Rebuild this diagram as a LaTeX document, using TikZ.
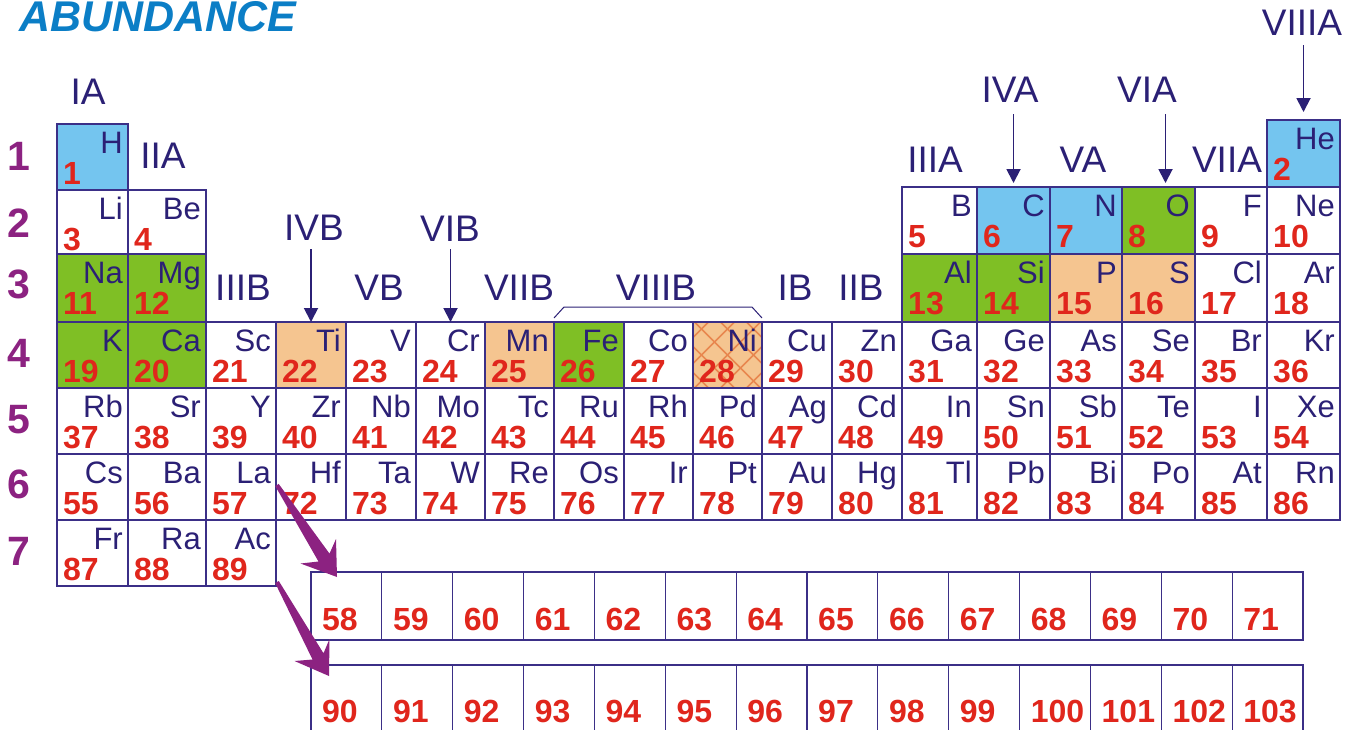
\documentclass[tikz,border=0pt]{standalone}
\usepackage{fontspec}
\setmainfont{Liberation Sans}
\usetikzlibrary{arrows.meta}
\definecolor{navy}{HTML}{2B2075}
\definecolor{boxc}{HTML}{3B2F87}
\definecolor{redc}{HTML}{E0261C}
\definecolor{purp}{HTML}{8C2281}
\definecolor{bluec}{HTML}{74C5EF}
\definecolor{greenc}{HTML}{7FBF25}
\definecolor{peachc}{HTML}{F5C590}
\definecolor{hatchc}{HTML}{E8874F}
\definecolor{titlec}{HTML}{0B7EC6}
\def\colx{{57,128,206,276,346,416,485,554,624,693,762,832,902,977,1050,1122,1195,1267,1340}}
\tikzset{
  cellbox/.style={rectangle, draw=boxc, line width=1.2pt, inner sep=0pt, outer sep=0pt, anchor=north west},
  symt/.style={anchor=base east, text=navy, inner sep=0pt, font=\fontsize{31}{31}\selectfont},
  numt/.style={anchor=base west, text=redc, inner sep=0pt, font=\fontsize{32}{32}\selectfont\bfseries},
  grp/.style={anchor=base, text=navy, inner sep=0pt, font=\fontsize{37}{37}\selectfont},
  per/.style={anchor=base, text=purp, inner sep=0pt, font=\fontsize{41}{41}\selectfont\bfseries},
  garrow/.style={draw=navy, line width=1.9pt, -{Triangle[width=14pt,length=14pt]}},
  bracketline/.style={draw=navy, line width=1pt},
  bigarrow/.style={fill=purp},
  hatchline/.style={draw=hatchc, line width=1.5pt},
  hatch/.style={path picture={
    \foreach \k in {-130,-104,...,130}{
      \draw[hatchline] ([xshift=\k pt]path picture bounding box.center) ++(-60pt,-60pt) -- ++(120pt,120pt);
      \draw[hatchline] ([xshift=\k pt]path picture bounding box.center) ++(-60pt,60pt) -- ++(120pt,-120pt);
    }}},
}
\newcommand\el[7][]{%
  \pgfmathsetmacro\xl{\colx[#2]}%
  \pgfmathsetmacro\xr{\colx[#2+1]}%
  \node[cellbox, fill=#7, minimum width={(\xr-\xl)*1pt}, minimum height={(#4-#3)*1pt}, #1] (e#6) at (\xl,#3) {};
  \node[symt] (e#6s) at ([xshift=-5pt,yshift=-29pt]e#6.north east) {#5};
  \node[numt] (e#6n) at ([xshift=6pt,yshift=-60pt]e#6.north west) {#6};
}
\begin{document}
\begin{tikzpicture}[x=1pt,y=-1pt]
\useasboundingbox (0,0) rectangle (1352,729);
% title
\node[anchor=base west, inner sep=0pt, text=titlec, font=\fontsize{43}{43}\selectfont\bfseries\itshape] (title) at (19,31.5) {ABUNDANCE};
% period numbers
\foreach \p/\y in {1/170,2/237,3/298,4/367,5/433,6/498,7/565}
  \node[per] (p\p) at (19,\y) {\p};
% row 1
\el{0}{124}{190}{H}{1}{bluec}
\el{17}{120}{187}{He}{2}{bluec}
% row 2
\el{0}{190}{254}{Li}{3}{white}
\el{1}{190}{254}{Be}{4}{white}
\foreach \c/\s/\n/\f in {12/B/5/white,13/C/6/bluec,14/N/7/bluec,15/O/8/greenc,16/F/9/white,17/Ne/10/white}
  {\el{\c}{187}{254}{\s}{\n}{\f}}
% row 3
\foreach \c/\s/\n/\f in {0/Na/11/greenc,1/Mg/12/greenc,12/Al/13/greenc,13/Si/14/greenc,14/P/15/peachc,15/S/16/peachc,16/Cl/17/white,17/Ar/18/white}
  {\el{\c}{254}{322}{\s}{\n}{\f}}
% row 4
\foreach \c/\s/\n/\f in {0/K/19/greenc,1/Ca/20/greenc,2/Sc/21/white,3/Ti/22/peachc,4/V/23/white,5/Cr/24/white,6/Mn/25/peachc,7/Fe/26/greenc,8/Co/27/white,10/Cu/29/white,11/Zn/30/white,12/Ga/31/white,13/Ge/32/white,14/As/33/white,15/Se/34/white,16/Br/35/white,17/Kr/36/white}
  {\el{\c}{322}{388}{\s}{\n}{\f}}
\el[hatch]{9}{322}{388}{Ni}{28}{peachc}
% row 5
\foreach \c/\s/\n in {0/Rb/37,1/Sr/38,2/Y/39,3/Zr/40,4/Nb/41,5/Mo/42,6/Tc/43,7/Ru/44,8/Rh/45,9/Pd/46,10/Ag/47,11/Cd/48,12/In/49,13/Sn/50,14/Sb/51,15/Te/52,16/I/53,17/Xe/54}
  {\el{\c}{388}{454}{\s}{\n}{white}}
% row 6
\foreach \c/\s/\n in {0/Cs/55,1/Ba/56,2/La/57,3/Hf/72,4/Ta/73,5/W/74,6/Re/75,7/Os/76,8/Ir/77,9/Pt/78,10/Au/79,11/Hg/80,12/Tl/81,13/Pb/82,14/Bi/83,15/Po/84,16/At/85,17/Rn/86}
  {\el{\c}{454}{520}{\s}{\n}{white}}
% row 7
\foreach \c/\s/\n in {0/Fr/87,1/Ra/88,2/Ac/89}
  {\el{\c}{520}{586}{\s}{\n}{white}}
% lanthanides / actinides
\foreach \n [count=\i from 0] in {58,...,71}{
  \node[cellbox, fill=white, minimum width=70.86pt, minimum height=68pt] (f\n) at ({311+\i*70.86},572) {};
  \node[numt] (fn\n) at ([xshift=11pt,yshift=-58pt]f\n.north west) {\n};
}
\foreach \n [count=\i from 0] in {90,...,103}{
  \node[cellbox, fill=white, minimum width=70.86pt, minimum height=72pt] (f\n) at ({311+\i*70.86},665) {};
  \node[numt] (fn\n) at ([xshift=11pt,yshift=-57pt]f\n.north west) {\n};
}
% group labels
\node[grp] (gIA) at (88,104) {IA};
\node[grp] (gIIA) at (163,168) {IIA};
\node[grp] (gIIIB) at (243,300) {IIIB};
\node[grp] (gIVB) at (314,240) {IVB};
\node[grp] (gVB) at (379,300) {VB};
\node[grp] (gVIB) at (450,241) {VIB};
\node[grp] (gVIIB) at (519,300) {VIIB};
\node[grp] (gVIIIB) at (656,300) {VIIIB};
\node[grp] (gIB) at (795,300) {IB};
\node[grp] (gIIB) at (861,300) {IIB};
\node[grp] (gIIIA) at (935,172) {IIIA};
\node[grp] (gIVA) at (1010,102) {IVA};
\node[grp] (gVA) at (1083,172) {VA};
\node[grp] (gVIA) at (1147,102) {VIA};
\node[grp] (gVIIA) at (1227,172) {VIIA};
\node[grp] (gVIIIA) at (1302,35) {VIIIA};
% group arrows
\draw[garrow] ([yshift=73pt]e22.north) -- (e22.north);
\draw[garrow] ([yshift=73pt]e24.north) -- (e24.north);
\draw[garrow] ([yshift=73pt]e6.north) -- ([yshift=4pt]e6.north);
\draw[garrow] ([xshift=7pt,yshift=73pt]e8.north) -- ([xshift=7pt,yshift=4pt]e8.north);
\draw[garrow] ([yshift=75pt]e2.north) -- ([yshift=8pt]e2.north);
% VIIIB bracket
\draw[bracketline] ([yshift=4pt]e26.north west) -- ([xshift=10pt,yshift=15pt]e26.north west)
  -- ([xshift=-10pt,yshift=15pt]e28.north east) -- ([yshift=4pt]e28.north east);
% big purple arrows
\coordinate (laS) at (277,485);
\coordinate (laT) at (337,577);
\coordinate (acS) at (277,582);
\coordinate (acT) at (329,676);
\fill[bigarrow] (278.7,483.9) -- (329.5,553.6) -- (336,539) -- (laT) -- (300.5,563.5) -- (318.5,561.5) -- (275.3,486.1) -- cycle;
\fill[bigarrow] (278.8,581.0) -- (323.5,653.3) -- (329.5,639) -- (acT) -- (294.5,661) -- (312.5,659.5) -- (275.2,583.0) -- cycle;
\end{tikzpicture}
\end{document}
